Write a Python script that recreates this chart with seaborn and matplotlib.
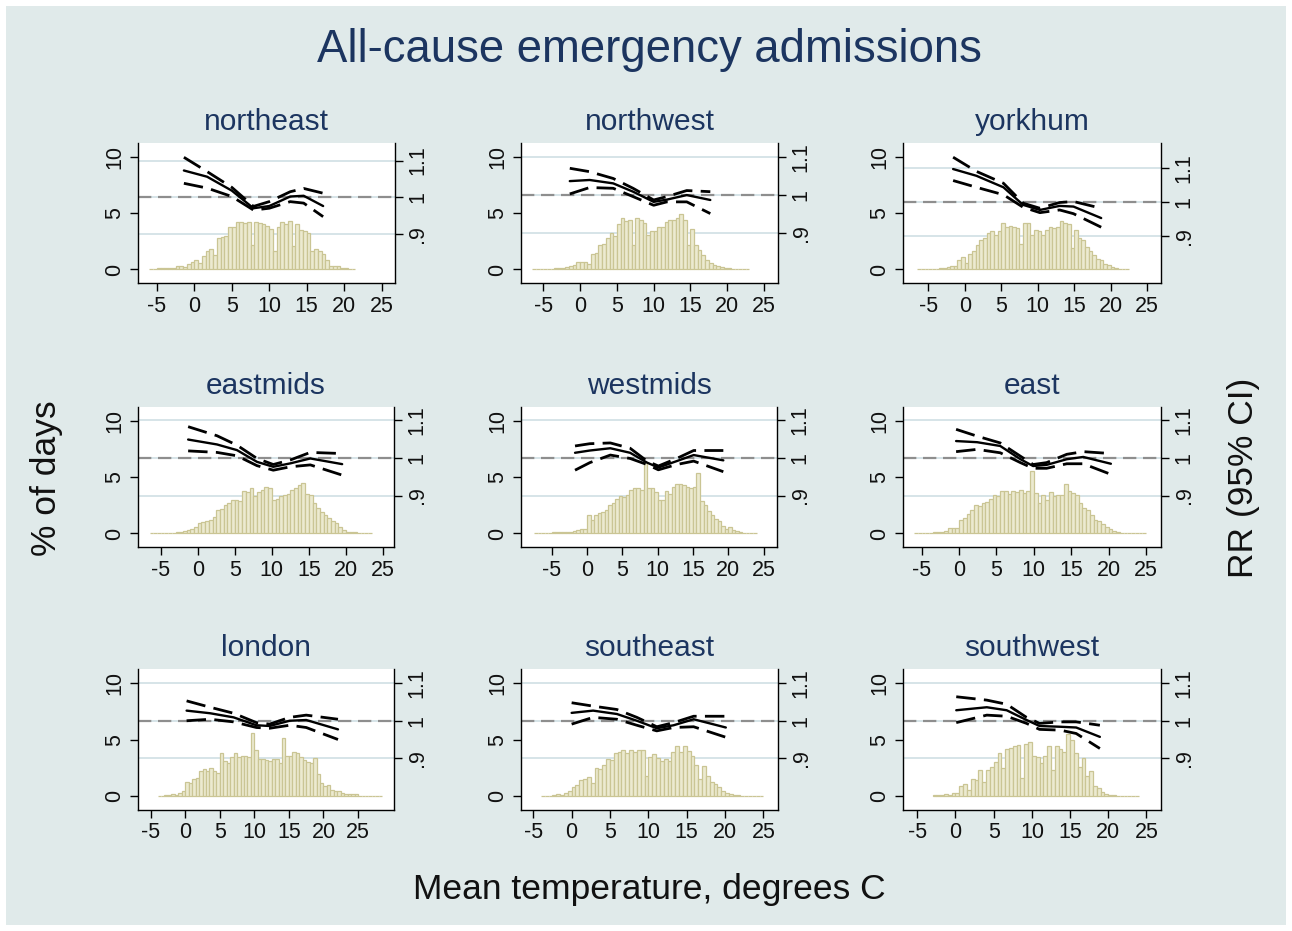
import numpy as np
import pandas as pd
import matplotlib
matplotlib.use("Agg")
import matplotlib.pyplot as plt
from matplotlib.patches import Rectangle
import seaborn as sns

sns.set_theme(style="white")
plt.rcParams['font.family'] = ['Liberation Sans', 'DejaVu Sans']

# ---------------- data ----------------
regions = ["northeast", "northwest", "yorkhum",
           "eastmids", "westmids", "east",
           "london", "southeast", "southwest"]

BIN_W = 0.5

# histogram: first bin left edge and % of days per 0.5 C bin
northeast_start = -6.0
northeast_pct = [0.05, 0.05, 0.1, 0.1, 0.1, 0.1, 0.15, 0.3, 0.3, 0.25, 0.5, 0.7, 0.8, 0.6,
                 1.2, 1.6, 1.8, 1.3, 2.8, 2.9, 3.0, 3.8, 3.8, 4.2, 4.2, 4.1, 4.2, 2.2,
                 4.2, 4.1, 4.0, 3.9, 3.6, 1.6, 3.8, 4.2, 4.0, 4.3, 2.1, 4.0, 3.5, 3.4,
                 3.2, 1.6, 1.8, 1.6, 1.4, 0.8, 0.3, 0.35, 0.35, 0.15, 0.1, 0.05, 0.05]
northwest_start = -6.5
northwest_pct = [0.02, 0.03, 0.03, 0.05, 0.05, 0.05, 0.1, 0.1, 0.15, 0.2, 0.3, 0.4, 0.65, 0.65,
                 0.65, 0.5, 1.4, 1.5, 2.2, 2.3, 2.8, 3.2, 3.0, 4.0, 4.6, 4.3, 4.4, 2.2,
                 4.6, 4.4, 4.1, 3.1, 3.4, 3.4, 3.8, 3.8, 4.2, 4.4, 4.4, 4.6, 4.9, 4.4,
                 2.2, 3.6, 2.2, 1.7, 1.3, 0.8, 0.6, 0.4, 0.3, 0.25, 0.15, 0.1, 0.05, 0.05,
                 0.03, 0.03, 0.02]
yorkhum_start = -6.5
yorkhum_pct = [0.02, 0.02, 0.02, 0.03, 0.05, 0.05, 0.1, 0.15, 0.2, 0.3, 0.35, 0.8, 1.1, 0.6,
               1.4, 1.6, 2.2, 2.6, 2.8, 3.2, 3.4, 3.1, 3.4, 4.1, 3.8, 3.9, 3.8, 3.7,
               2.3, 4.1, 4.1, 3.1, 3.5, 3.4, 3.1, 3.5, 3.8, 3.7, 3.8, 4.3, 4.1, 4.0,
               1.9, 3.5, 2.8, 2.6, 2.0, 1.6, 1.3, 0.9, 0.8, 0.5, 0.4, 0.2, 0.1, 0.05,
               0.05, 0.02]
eastmids_start = -6.5
eastmids_pct = [0.02, 0.02, 0.03, 0.05, 0.05, 0.05, 0.05, 0.1, 0.15, 0.2, 0.3, 0.4, 0.6, 0.9,
                1.0, 1.1, 1.2, 1.5, 2.1, 2.2, 2.5, 2.7, 3.0, 3.0, 2.9, 3.8, 3.7, 4.0,
                3.3, 3.7, 3.9, 4.1, 4.0, 3.0, 3.1, 3.3, 3.4, 3.5, 3.9, 4.0, 4.3, 4.5,
                3.5, 3.4, 2.7, 2.3, 1.9, 1.6, 1.4, 1.1, 0.9, 0.6, 0.3, 0.15, 0.1, 0.1,
                0.05, 0.05, 0.03, 0.02]
westmids_start = -7.5
westmids_pct = [0.02, 0.02, 0.02, 0.02, 0.02, 0.1, 0.1, 0.1, 0.1, 0.1, 0.15, 0.2, 0.3, 0.4,
                0.4, 1.6, 1.2, 1.6, 1.8, 1.9, 2.1, 2.5, 2.7, 3.1, 3.3, 3.2, 3.4, 3.9,
                4.0, 4.0, 3.9, 6.3, 4.0, 4.0, 3.7, 3.0, 3.0, 3.8, 3.5, 4.1, 4.4, 4.4,
                4.3, 4.1, 4.0, 4.1, 5.4, 2.9, 2.5, 2.0, 1.6, 1.3, 1.1, 0.7, 0.4, 0.6,
                0.35, 0.2, 0.1, 0.05, 0.05, 0.02, 0.02]
east_start = -6.0
east_pct = [0.03, 0.0, 0.0, 0.0, 0.05, 0.1, 0.1, 0.15, 0.2, 0.5, 0.5, 0.5, 1.2, 1.4,
            1.7, 2.1, 2.5, 2.4, 2.7, 2.8, 3.1, 3.4, 3.3, 3.8, 3.8, 3.5, 3.8, 3.7,
            3.9, 3.6, 3.8, 5.5, 3.6, 2.7, 3.4, 3.0, 3.7, 3.3, 3.4, 3.4, 4.4, 3.8,
            3.6, 3.4, 2.7, 2.3, 2.1, 1.6, 1.2, 1.1, 0.8, 0.6, 0.4, 0.2, 0.1, 0.08,
            0.05, 0.05, 0.03, 0.03, 0.02, 0.02]
london_start = -4.0
london_pct = [0.05, 0.05, 0.1, 0.1, 0.2, 0.15, 0.3, 0.45, 1.3, 1.2, 1.5, 1.6, 2.2, 2.4,
              2.2, 2.5, 2.2, 2.1, 3.8, 3.1, 2.9, 3.5, 3.8, 3.5, 3.6, 3.6, 3.5, 5.6,
              4.1, 3.3, 3.3, 3.2, 3.1, 3.3, 3.3, 2.9, 5.1, 3.6, 3.6, 3.9, 3.8, 3.5,
              3.2, 3.0, 2.9, 3.4, 2.0, 1.2, 0.9, 1.0, 0.6, 0.5, 0.5, 0.3, 0.25, 0.25,
              0.2, 0.2, 0.02, 0.02, 0.02, 0.02, 0.02, 0.02, 0.02]
southeast_start = -4.0
southeast_pct = [0.05, 0.05, 0.05, 0.1, 0.25, 0.15, 0.3, 0.5, 0.8, 1.0, 1.4, 1.5, 1.7, 1.2,
                 2.5, 2.4, 2.8, 3.3, 3.2, 3.8, 3.9, 4.1, 3.8, 4.1, 3.9, 4.1, 4.1, 1.8,
                 3.5, 3.7, 3.4, 3.1, 3.3, 3.1, 3.9, 4.4, 3.9, 4.4, 4.0, 3.6, 2.8, 1.5,
                 2.7, 1.8, 1.3, 1.1, 0.8, 0.5, 0.3, 0.2, 0.15, 0.1, 0.05, 0.05, 0.03,
                 0.03, 0.02, 0.02]
southwest_start = -3.0
southwest_pct = [0.1, 0.1, 0.1, 0.25, 0.15, 0.3, 0.3, 0.9, 1.1, 0.6, 1.5, 1.4, 2.3, 1.3,
                 2.3, 2.6, 3.0, 3.8, 2.5, 4.2, 4.3, 4.4, 4.5, 1.6, 4.6, 4.8, 3.6, 3.5,
                 2.9, 3.6, 4.4, 2.3, 4.4, 4.2, 3.9, 5.5, 5.0, 3.8, 2.6, 3.4, 1.8, 2.2,
                 0.9, 0.7, 0.4, 0.25, 0.15, 0.1, 0.05, 0.05, 0.03, 0.03, 0.02, 0.02]

# relative risk curves (temperature, RR, lower CI, upper CI)
northeast_temp = [-1.4, 1.7, 5.0, 7.9, 10.0, 12.8, 14.6, 17.2]
northeast_rr = [1.073, 1.056, 1.018, 0.970, 0.976, 1.002, 1.004, 0.976]
northeast_lo = [1.038, 1.025, 1.002, 0.965, 0.970, 0.988, 0.984, 0.947]
northeast_hi = [1.109, 1.070, 1.027, 0.975, 0.988, 1.015, 1.024, 1.011]

northwest_temp = [-1.4, 1.3, 4.5, 7.2, 10.0, 11.8, 14.5, 17.7]
northwest_rr = [1.037, 1.040, 1.031, 1.009, 0.982, 0.988, 1.000, 0.987]
northwest_lo = [1.003, 1.020, 1.018, 0.996, 0.973, 0.982, 0.982, 0.951]
northwest_hi = [1.071, 1.062, 1.044, 1.018, 0.987, 0.996, 1.012, 1.009]

yorkhum_temp = [-1.6, 1.6, 5.3, 8.0, 10.3, 13.0, 14.9, 18.7]
yorkhum_rr = [1.098, 1.078, 1.044, 0.992, 0.977, 0.989, 0.987, 0.953]
yorkhum_lo = [1.064, 1.044, 1.022, 0.985, 0.969, 0.977, 0.966, 0.926]
yorkhum_hi = [1.133, 1.091, 1.056, 0.997, 0.982, 0.999, 1.002, 0.982]

eastmids_temp = [-1.3, 2.6, 5.3, 8.0, 10.2, 12.5, 15.2, 19.5]
eastmids_rr = [1.048, 1.035, 1.020, 0.989, 0.976, 0.985, 0.998, 0.983]
eastmids_lo = [1.018, 1.014, 1.005, 0.979, 0.967, 0.976, 0.981, 0.954]
eastmids_hi = [1.082, 1.058, 1.033, 0.998, 0.982, 0.994, 1.014, 1.011]

westmids_temp = [-1.7, 0.4, 3.3, 6.1, 8.5, 10.1, 12.7, 15.1, 19.3]
westmids_rr = [1.013, 1.019, 1.025, 1.013, 0.987, 0.974, 0.991, 1.007, 0.993]
westmids_lo = [0.967, 0.987, 1.007, 0.998, 0.982, 0.968, 0.982, 0.991, 0.963]
westmids_hi = [1.031, 1.037, 1.039, 1.025, 0.991, 0.978, 0.998, 1.019, 1.019]

east_temp = [-0.4, 2.4, 5.5, 8.2, 9.9, 11.7, 14.4, 16.6, 20.3]
east_rr = [1.044, 1.041, 1.031, 0.996, 0.978, 0.981, 0.996, 1.002, 0.984]
east_lo = [1.016, 1.022, 1.013, 0.987, 0.972, 0.972, 0.984, 0.984, 0.956]
east_hi = [1.075, 1.057, 1.039, 1.004, 0.982, 0.987, 1.009, 1.016, 1.011]

london_temp = [0.2, 3.6, 7.0, 10.3, 12.2, 15.1, 17.5, 22.1]
london_rr = [1.027, 1.020, 1.009, 0.988, 0.986, 1.000, 1.002, 0.977]
london_lo = [1.000, 1.004, 0.997, 0.982, 0.980, 0.988, 0.982, 0.950]
london_hi = [1.053, 1.036, 1.020, 0.995, 0.991, 1.009, 1.015, 1.004]

southeast_temp = [0.0, 2.8, 5.9, 8.5, 11.1, 13.3, 15.9, 20.1]
southeast_rr = [1.021, 1.027, 1.018, 1.000, 0.980, 0.988, 1.004, 0.982]
southeast_lo = [0.991, 1.009, 1.004, 0.988, 0.973, 0.982, 0.984, 0.956]
southeast_hi = [1.048, 1.039, 1.030, 1.009, 0.984, 0.995, 1.012, 1.012]

southwest_temp = [0.1, 4.1, 6.7, 9.3, 11.0, 13.7, 15.8, 18.9]
southwest_rr = [1.028, 1.036, 1.028, 1.002, 0.986, 0.984, 0.982, 0.957]
southwest_lo = [0.995, 1.015, 1.012, 0.993, 0.977, 0.975, 0.966, 0.926]
southwest_hi = [1.064, 1.055, 1.044, 1.009, 0.993, 0.997, 0.997, 0.988]

x_ticks = [-5, 0, 5, 10, 15, 20, 25]
pct_ticks = [0, 5, 10]
rr_ticks = [0.9, 1.0, 1.1]
rr_tick_labels = [".9", "1", "1.1"]

# ---------------- styling / layout ----------------
W, H = 1292, 931
BG = "#e0eaea"
GRID = "#d6e4e8"
TITLE_C = "#1c3560"
BAR_FACE = "#ecead0"
BAR_EDGE = "#cac594"

# axes boxes in pixels: left, top, right, bottom
boxes = {
    "northeast": (138, 143, 395, 283), "northwest": (521, 143, 778, 283), "yorkhum": (903, 143, 1161, 283),
    "eastmids": (138, 407, 394, 547), "westmids": (521, 407, 777, 547), "east": (903, 407, 1161, 547),
    "london": (138, 669, 394, 810), "southeast": (521, 669, 778, 810), "southwest": (903, 669, 1161, 810),
}
xlims = {
    "northeast": (-7.53, 26.8), "northwest": (-8.03, 26.9), "yorkhum": (-8.47, 26.9),
    "eastmids": (-8.07, 26.5), "westmids": (-9.35, 26.9), "east": (-7.5, 27.0),
    "london": (-6.83, 30.2), "southeast": (-6.6, 26.9), "southwest": (-6.87, 26.9),
}
rrlims = {
    "northeast": (0.766, 1.148), "northwest": (0.767, 1.138), "yorkhum": (0.761, 1.175),
    "eastmids": (0.764, 1.134), "westmids": (0.764, 1.134), "east": (0.764, 1.134),
    "london": (0.762, 1.138), "southeast": (0.762, 1.138), "southwest": (0.762, 1.138),
}
PCT_LIM = (-1.2, 11.22)

fig = plt.figure(figsize=(W / 100, H / 100), dpi=100)
fig.patch.set_facecolor("white")
fig.add_artist(Rectangle((6 / W, 6 / H), (W - 12) / W, (H - 12) / H,
                         transform=fig.transFigure, facecolor=BG, edgecolor="none", zorder=-10))

g = globals()
for reg in regions:
    l, t, r, b = boxes[reg]
    ax = fig.add_axes([l / W, 1 - b / H, (r - l) / W, (b - t) / H])
    ax2 = ax.twinx()   # right axis: white background, grid, reference line, ticks
    ax3 = ax.twinx()   # top layer: RR curves
    ax2.set_zorder(1)
    ax.set_zorder(2)
    ax3.set_zorder(3)
    ax.patch.set_visible(False)
    ax3.patch.set_visible(False)
    ax2.patch.set_facecolor("white")
    ax2.patch.set_visible(True)

    start = g[reg + "_start"]
    pct = [float(v) for v in g[reg + "_pct"]]
    edges = [start + BIN_W * i for i in range(len(pct) + 1)]
    centers = [e + BIN_W / 2 for e in edges[:-1]]
    hist_df = pd.DataFrame({"temp": centers, "pct": pct})
    sns.histplot(data=hist_df, x="temp", weights="pct", bins=edges, ax=ax,
                 color=BAR_FACE, edgecolor=BAR_EDGE, linewidth=0.9, alpha=1.0)

    ax2.set_ylim(*rrlims[reg])
    ax3.set_ylim(*rrlims[reg])
    for v in rr_ticks:
        ax2.axhline(v, color=GRID, lw=1.4, zorder=0)
    ax2.axhline(1.0, color="#8e8e8e", lw=1.6, ls=(0, (6, 3)), zorder=1)

    curve_df = pd.DataFrame({"temp": g[reg + "_temp"], "rr": g[reg + "_rr"],
                             "lo": g[reg + "_lo"], "hi": g[reg + "_hi"]})
    sns.lineplot(data=curve_df, x="temp", y="rr", ax=ax3, color="black", lw=1.7)
    sns.lineplot(data=curve_df, x="temp", y="lo", ax=ax3, color="black", lw=2.0,
                 linestyle=(0, (7, 3)))
    sns.lineplot(data=curve_df, x="temp", y="hi", ax=ax3, color="black", lw=2.0,
                 linestyle=(0, (7, 3)))
    ax3.set_yticks([])
    ax3.set_ylabel("")
    ax3.set_xlabel("")
    for s in ax3.spines.values():
        s.set_visible(False)

    ax.set_xlim(*xlims[reg])
    ax.set_ylim(*PCT_LIM)
    ax.set_xticks(x_ticks)
    ax.set_xticklabels([str(v) for v in x_ticks])
    ax.set_yticks(pct_ticks)
    ax.set_yticklabels([str(v) for v in pct_ticks], rotation=90, va="center")
    ax2.set_yticks(rr_ticks)
    ax2.set_yticklabels(rr_tick_labels, rotation=90, va="center")
    ax.set_xlabel("")
    ax.set_ylabel("")
    ax2.set_ylabel("")
    ax2.set_xlabel("")

    for a in (ax, ax2):
        a.spines["top"].set_visible(False)
        for s in ("left", "right", "bottom"):
            a.spines[s].set_color("black")
            a.spines[s].set_linewidth(1.0)
    ax.spines["right"].set_visible(False)
    ax2.spines["left"].set_visible(False)
    ax2.spines["bottom"].set_visible(False)

    ax.tick_params(axis="both", which="major", length=6, width=1.0, color="black",
                   labelsize=15.5, labelcolor="#111111", pad=3, direction="out",
                   bottom=True, left=True)
    ax2.tick_params(axis="y", which="major", length=6, width=1.0, color="black",
                    labelsize=15.5, labelcolor="#111111", pad=3, direction="out", right=True)

    ax.set_title(reg, fontsize=21.5, color=TITLE_C, pad=9)

fig.text(649 / W, 1 - 50 / H, "All-cause emergency admissions", ha="center", va="center",
         fontsize=32.8, color=TITLE_C)
fig.text(47 / W, 1 - 478 / H, "% of days", ha="center", va="center", rotation=90,
         fontsize=25.5, color="#111111")
fig.text(1243 / W, 1 - 478 / H, "RR (95% CI)", ha="center", va="center", rotation=90,
         fontsize=25.5, color="#111111")
fig.text(649 / W, 1 - 890 / H, "Mean temperature, degrees C", ha="center", va="center",
         fontsize=25.5, color="#111111")

fig.savefig("out.png", dpi=100, facecolor=fig.get_facecolor())
